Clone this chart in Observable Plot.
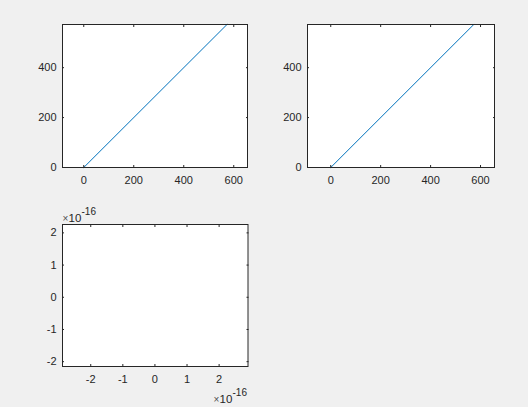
<!DOCTYPE html>
<html>
<head>
<meta charset="utf-8">
<script src="https://cdn.jsdelivr.net/npm/d3@7"></script>
<script src="https://cdn.jsdelivr.net/npm/@observablehq/plot@0.6"></script>
<style>
  html, body { margin: 0; padding: 0; background: #f0f0f0; }
  #fig { position: relative; width: 528px; height: 407px; background: #f0f0f0; overflow: hidden; }
  #fig > div.p { position: absolute; line-height: 0; }
</style>
</head>
<body>
<div id="fig"></div>
<script>
// ---- data ----
const lineX = [0, 573];
const lineY = [0, 573];
const xTicksTop = [0, 200, 400, 600];
const yTicksTop = [0, 200, 400];
// empty subplot, tick values in units of 1e-16
const xTicks3 = [-2, -1, 0, 1, 2];
const yTicks3 = [-2, -1, 0, 1, 2];
const exponentBase = "10";
const exponentPower = "-16";
const timesSign = "×";

const ink = "#262626";
const lineColor = "#0072BD";
const FONT = "11px";
const FAMILY = "Liberation Sans, Arial, Helvetica, sans-serif";

function makePoints() { return lineX.map((x, i) => ({x, y: lineY[i]})); }

function axes(xTicks, yTicks, fmt) {
  const common = {stroke: ink, color: ink, fontSize: FONT, tickSize: -2, label: null};
  return [
    Plot.axisX(xTicks, {...common, anchor: "bottom", tickPadding: 11, tickFormat: fmt}),
    Plot.axisX(xTicks, {...common, anchor: "top", tickFormat: () => ""}),
    Plot.axisY(yTicks, {...common, anchor: "left", tickPadding: 8, tickFormat: fmt}),
    Plot.axisY(yTicks, {...common, anchor: "right", tickFormat: () => ""})
  ];
}

function exponentMarks(anchor, base) {
  const [dxT, dxB, dxP, dy, dyP] = base;
  const o = {frameAnchor: anchor, textAnchor: "start", lineAnchor: "bottom", fill: ink};
  return [
    Plot.text([timesSign], {...o, text: d => d, dx: dxT, dy, fontSize: 10, fill: "#505050"}),
    Plot.text([exponentBase], {...o, text: d => d, dx: dxB, dy, fontSize: 11.5}),
    Plot.text([exponentPower], {...o, text: d => d, dx: dxP, dy: dyP, fontSize: 10})
  ];
}

function panel({left, top, width, height, mL, mR, mT, mB, xDomain, yDomain, xTicks, yTicks, data, fmt, extra = []}) {
  const marks = [Plot.frame({fill: "white", stroke: null})];
  if (data) marks.push(Plot.line(data, {x: "x", y: "y", stroke: lineColor, strokeWidth: 1}));
  marks.push(...axes(xTicks, yTicks, fmt));
  marks.push(Plot.frame({stroke: ink, strokeWidth: 1}));
  marks.push(...extra);
  const svg = Plot.plot({
    width, height,
    marginLeft: mL, marginRight: mR, marginTop: mT, marginBottom: mB,
    style: {background: "transparent", fontFamily: FAMILY},
    x: {domain: xDomain, axis: null},
    y: {domain: yDomain, axis: null},
    marks
  });
  const d = document.createElement("div");
  d.className = "p";
  d.style.left = left + "px";
  d.style.top = top + "px";
  d.appendChild(svg);
  document.getElementById("fig").appendChild(d);
}

const fmtInt = d => d < 0 ? "-" + Math.abs(d) : String(d);

panel({left: 0, top: 0, width: 264, height: 200, mL: 62, mR: 17, mT: 24, mB: 33,
  xDomain: [-85, 655], yDomain: [0, 573], xTicks: xTicksTop, yTicks: yTicksTop, data: makePoints(), fmt: fmtInt});
panel({left: 270, top: 0, width: 240, height: 200, mL: 37, mR: 16, mT: 24, mB: 33,
  xDomain: [-93.1, 656], yDomain: [0, 573], xTicks: xTicksTop, yTicks: yTicksTop, data: makePoints(), fmt: fmtInt});
panel({left: 0, top: 200, width: 264, height: 207, mL: 62, mR: 16.5, mT: 24, mB: 41,
  xDomain: [-2.88, 2.9], yDomain: [-2.15, 2.26], xTicks: xTicks3, yTicks: yTicks3, data: null, fmt: fmtInt,
  extra: [
    ...exponentMarks("top-left", [0, 6, 19, -3, -10]),
    ...exponentMarks("bottom-right", [-34.5, -28.5, -15.5, 36, 29])
  ]});
</script>
</body>
</html>
